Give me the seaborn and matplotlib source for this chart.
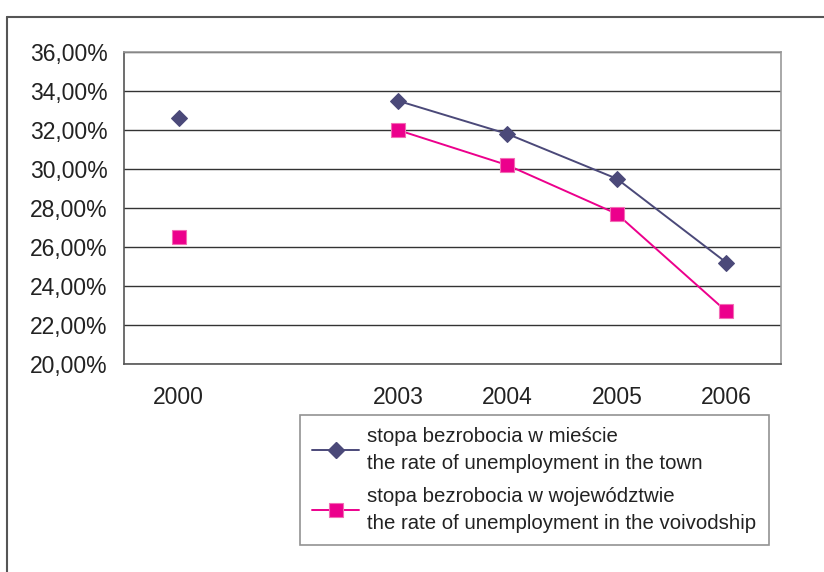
import numpy as np
import pandas as pd
import matplotlib
matplotlib.use("Agg")
import matplotlib.pyplot as plt
from matplotlib.lines import Line2D
from matplotlib.ticker import FuncFormatter
import seaborn as sns

# Category axis (the empty slot stands for the missing years 2001-2002)
categories = ["2000", "", "2003", "2004", "2005", "2006"]
town_rate = [32.6, np.nan, 33.5, 31.8, 29.5, 25.2]
voivodship_rate = [26.5, np.nan, 32.0, 30.2, 27.7, 22.7]
label_town = "stopa bezrobocia w mieście\nthe rate of unemployment in the town"
label_voiv = "stopa bezrobocia w województwie\nthe rate of unemployment in the voivodship"
y_ticks = [20, 22, 24, 26, 28, 30, 32, 34, 36]

TOWN_COLOR = "#4B4979"
VOIV_COLOR = "#EC008C"

sns.set_style("white")
plt.rcParams["font.family"] = ["Liberation Sans", "DejaVu Sans"]

fig = plt.figure(figsize=(8.24, 5.72), dpi=100)
ax = fig.add_axes([0.1505, 0.3636, 0.7975, 0.5455])


def build_frame(values):
    pos = np.arange(len(categories))
    df = pd.DataFrame({"pos": pos, "value": values})
    # a new segment starts after each gap so the line breaks there
    df["segment"] = df["value"].isna().cumsum()
    return df.dropna()


df_town = build_frame(town_rate)
df_voiv = build_frame(voivodship_rate)

sns.lineplot(data=df_town, x="pos", y="value", units="segment", estimator=None,
             color=TOWN_COLOR, lw=1.4, marker="D", markersize=8.5,
             markeredgecolor=TOWN_COLOR, ax=ax, legend=False)
sns.lineplot(data=df_voiv, x="pos", y="value", units="segment", estimator=None,
             color=VOIV_COLOR, lw=1.4, marker="s", markersize=10.5,
             markeredgecolor="#F36BB5", markeredgewidth=0.8, ax=ax, legend=False)

# Axes limits, ticks and grid
ax.set_xlim(-0.5, len(categories) - 0.5)
ax.set_ylim(y_ticks[0], y_ticks[-1])
ax.set_yticks(y_ticks)
ax.yaxis.set_major_formatter(FuncFormatter(lambda v, _: f"{v:.2f}%".replace(".", ",")))
ax.set_xticks(np.arange(len(categories)))
ax.set_xticklabels(categories)
ax.set_xticks(np.arange(-0.5, len(categories)), minor=True)
ax.tick_params(axis="x", which="major", length=0, pad=16, labelsize=16.5, colors="#222222")
ax.tick_params(axis="x", which="minor", length=6, width=1, color="#555555", direction="out")
ax.tick_params(axis="y", length=8, width=1, color="#555555", direction="out",
               pad=4, labelsize=16.5, labelcolor="#222222")
ax.yaxis.grid(True, color="#333333", lw=1)
ax.set_axisbelow(True)
ax.set_xlabel("")
ax.set_ylabel("")

for side in ["left", "bottom"]:
    ax.spines[side].set_color("#555555")
    ax.spines[side].set_linewidth(1.2)
for side in ["top", "right"]:
    ax.spines[side].set_color("#999999")
    ax.spines[side].set_linewidth(1.2)

# Legend
handles = [
    Line2D([], [], color=TOWN_COLOR, lw=1.4, marker="D", markersize=8.5),
    Line2D([], [], color=VOIV_COLOR, lw=1.4, marker="s", markersize=10.5,
           markeredgecolor="#F36BB5", markeredgewidth=0.8),
]
leg = fig.legend(handles, [label_town, label_voiv], loc="upper left",
                 bbox_to_anchor=(0.364, 0.2745), borderaxespad=0,
                 fontsize=14.7, frameon=True, fancybox=False, handlelength=2.3,
                 handletextpad=0.4, labelspacing=0.7, borderpad=0.6,
                 labelcolor="#222222")
leg.get_frame().set_edgecolor("#777777")
leg.get_frame().set_linewidth(1.2)
for t in leg.get_texts():
    t.set_linespacing(1.5)

# Outer frame around the figure
fig.add_artist(Line2D([7 / 824, 7 / 824], [0, 1 - 17 / 572], transform=fig.transFigure,
                      color="#555555", lw=1.5))
fig.add_artist(Line2D([7 / 824, 1], [1 - 17 / 572, 1 - 17 / 572], transform=fig.transFigure,
                      color="#555555", lw=1.5))

fig.savefig("out.png", dpi=100)
